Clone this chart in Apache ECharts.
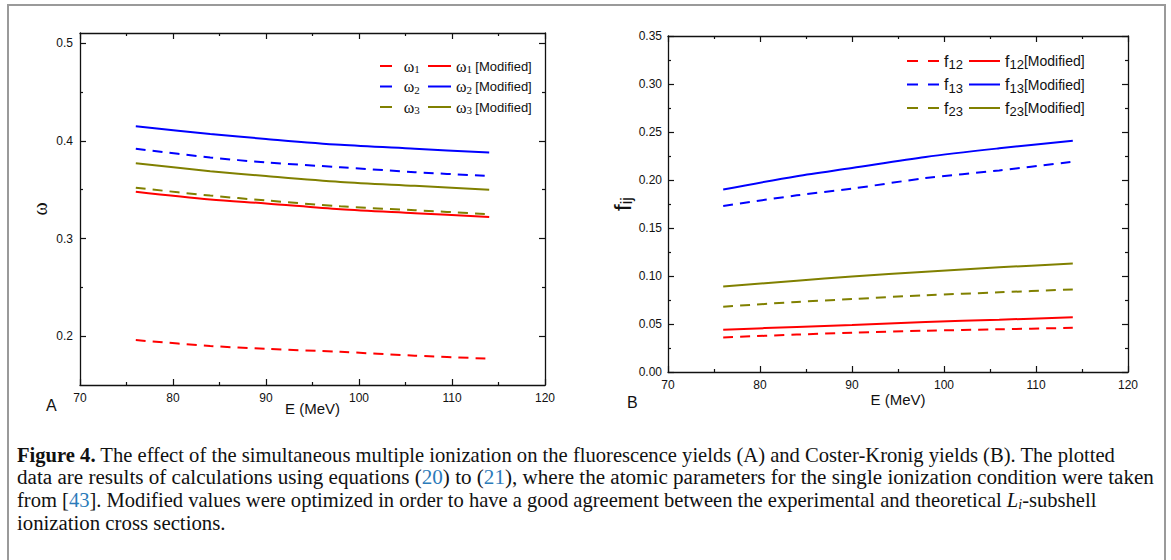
<!DOCTYPE html>
<html>
<head>
<meta charset="utf-8">
<script src="https://cdn.jsdelivr.net/npm/echarts@6/dist/echarts.min.js"></script>
<style>
html,body{margin:0;padding:0;background:#fff;}
#chart{width:1171px;height:560px;}
</style>
</head>
<body>
<div id="chart"></div>
<script>
// ---------------- data ----------------
const energies = [76, 84, 90, 98, 106, 114];
// Panel A: fluorescence yields
const w1    = [0.196, 0.190, 0.187, 0.184, 0.180, 0.177];
const w1Mod = [0.348, 0.340, 0.336, 0.330, 0.326, 0.322];
const w2    = [0.392, 0.383, 0.378, 0.373, 0.368, 0.364];
const w2Mod = [0.415, 0.407, 0.402, 0.396, 0.392, 0.388];
const w3    = [0.352, 0.344, 0.339, 0.333, 0.329, 0.325];
const w3Mod = [0.377, 0.369, 0.364, 0.358, 0.354, 0.350];
// Panel B: Coster-Kronig yields
const f12    = [0.036, 0.039, 0.041, 0.043, 0.0445, 0.046];
const f12Mod = [0.044, 0.047, 0.049, 0.052, 0.0545, 0.057];
const f13    = [0.173, 0.184, 0.191, 0.202, 0.210, 0.219];
const f13Mod = [0.190, 0.204, 0.2125, 0.224, 0.233, 0.241];
const f23    = [0.068, 0.073, 0.076, 0.080, 0.083, 0.086];
const f23Mod = [0.089, 0.095, 0.0995, 0.1045, 0.109, 0.113];
// tick labels
const yTicksA = [0.2, 0.3, 0.4, 0.5];
const yMinorA = [0.25, 0.35, 0.45];

// ---------------- helpers ----------------
const RED = '#ff0000', BLUE = '#0000ff', OLIVE = '#808000';
const SANS = 'Liberation Sans';
const SERIF = 'Liberation Serif';
const DASH = [10, 7];
const pairs = arr => energies.map((e, i) => [e, arr[i]]);

function mkSeries(name, arr, color, dashed, xi, yi) {
  return {
    name: name, type: 'line', xAxisIndex: xi, yAxisIndex: yi,
    data: pairs(arr), smooth: 0.3, symbol: 'none', silent: true,
    lineStyle: { color: color, width: 2, type: dashed ? DASH : 'solid' },
    itemStyle: { color: color }
  };
}

function xAxisDef(gridIndex, pos, labels, name, nameGap) {
  return {
    type: 'value', gridIndex: gridIndex, position: pos, min: 70, max: 120, interval: 10,
    axisLine: { show: true, onZero: false, lineStyle: { color: '#111', width: 1.3 } },
    axisTick: { show: true, inside: true, length: 6, lineStyle: { color: '#111', width: 1.2 } },
    minorTick: { show: true, splitNumber: 2, length: 3, lineStyle: { color: '#111', width: 1.2 } },
    splitLine: { show: false },
    axisLabel: { show: labels, margin: 7, color: '#111', fontFamily: SANS, fontSize: 12 },
    name: name || '', nameLocation: 'middle', nameGap: nameGap || 0, nameMoveOverlap: false,
    nameTextStyle: { fontFamily: SANS, fontSize: 15, color: '#111' }
  };
}

const richLeft = {
  g: { fontFamily: SERIF, fontSize: 16, color: '#111', lineHeight: 17, verticalAlign: 'middle' },
  s: { fontFamily: SERIF, fontSize: 11, color: '#111', lineHeight: 7, verticalAlign: 'bottom' },
  t: { fontFamily: SANS, fontSize: 13, color: '#111', lineHeight: 17, verticalAlign: 'middle' }
};
const richRight = {
  f: { fontFamily: SANS, fontSize: 16, color: '#111', lineHeight: 20, verticalAlign: 'middle' },
  fs: { fontFamily: SANS, fontSize: 13, color: '#111', lineHeight: 9, verticalAlign: 'bottom' },
  ft: { fontFamily: SANS, fontSize: 14, color: '#111', lineHeight: 20, verticalAlign: 'middle' }
};
function legendFmt(name) {
  const m = name.match(/^(ω|f)(\d+)(.*)$/);
  if (!m) return name;
  if (m[1] === 'ω') {
    return (m[3] ? '' : '  ') + '{g|ω}{s|' + m[2] + '}' + (m[3] ? ' {t|' + m[3].trim() + '}' : '');
  }
  return '{f|f}{fs|' + m[2] + '}' + (m[3] ? '{ft|' + m[3].trim() + '}' : '');
}
function legendDef(left, top, data, itemWidth, gap, icon, rich) {
  return {
    orient: 'vertical', left: left, top: top, data: data, selectedMode: false,
    itemWidth: itemWidth, itemHeight: 2, itemGap: gap, padding: 0,
    icon: icon,
    formatter: legendFmt,
    textStyle: { color: '#111', rich: rich }
  };
}

const chart = echarts.init(document.getElementById('chart'), null, { renderer: 'svg' });

const yAAxis = (pos, major) => ({
  type: 'value', gridIndex: 0, position: pos, min: 0.15, max: 0.5105,
  axisLine: { show: major, onZero: false, lineStyle: { color: '#111', width: 1.3 } },
  axisTick: { show: true, inside: true, length: major ? 6 : 3, customValues: major ? yTicksA : yMinorA,
              lineStyle: { color: '#111', width: 1.2 } },
  splitLine: { show: false },
  axisLabel: { show: major && pos === 'left', customValues: yTicksA, margin: 7, color: '#111',
               fontFamily: SANS, fontSize: 12, formatter: v => v.toFixed(1) },
  name: (major && pos === 'left') ? 'ω' : '', nameLocation: 'middle', nameGap: 30, nameMoveOverlap: false,
  nameTextStyle: { fontFamily: SERIF, fontSize: 20, color: '#111' }
});
const yBAxis = (pos) => ({
  type: 'value', gridIndex: 1, position: pos, min: 0, max: 0.35, interval: 0.05,
  axisLine: { show: true, onZero: false, lineStyle: { color: '#111', width: 1.3 } },
  axisTick: { show: true, inside: true, length: 6, lineStyle: { color: '#111', width: 1.2 } },
  minorTick: { show: true, splitNumber: 2, length: 3, lineStyle: { color: '#111', width: 1.2 } },
  splitLine: { show: false },
  axisLabel: { show: pos === 'left', margin: 6, color: '#111', fontFamily: SANS, fontSize: 12,
               formatter: v => v.toFixed(2) },
  name: pos === 'left' ? '{f|f}{s|ij}' : '', nameLocation: 'middle', nameGap: 34, nameMoveOverlap: false,
  nameTextStyle: { color: '#111', rich: {
    f: { fontFamily: SANS, fontSize: 24, color: '#111', lineHeight: 24, verticalAlign: 'middle' },
    s: { fontFamily: SANS, fontSize: 16, color: '#111', lineHeight: 12, verticalAlign: 'bottom' }
  } }
});

const DASH_ICON = 'path://M0 0H11V2H0ZM21 0H32V2H21Z';

const option = {
  animation: false,
  backgroundColor: '#fff',
  grid: [
    { left: 80, top: 33, width: 465, height: 352, containLabel: false },
    { left: 668, top: 36, width: 460, height: 336, containLabel: false }
  ],
  xAxis: [
    xAxisDef(0, 'bottom', true, 'E (MeV)', 16),
    xAxisDef(0, 'top', false),
    xAxisDef(1, 'bottom', true, 'E (MeV)', 20),
    xAxisDef(1, 'top', false)
  ],
  yAxis: [
    yAAxis('left', true), yAAxis('right', true), yAAxis('left', false), yAAxis('right', false),
    yBAxis('left'), yBAxis('right')
  ],
  legend: [
    legendDef(380, 58, ['ω1', 'ω2', 'ω3'], 12, 4, 'rect', richLeft),
    legendDef(428, 58, ['ω1 [Modified]', 'ω2 [Modified]', 'ω3 [Modified]'], 23, 4, 'rect', richLeft),
    legendDef(907, 53, ['f12', 'f13', 'f23'], 32, 5.5, DASH_ICON, richRight),
    legendDef(969, 53, ['f12[Modified]', 'f13[Modified]', 'f23[Modified]'], 31, 5.5, 'rect', richRight)
  ],
  series: [
    mkSeries('ω1', w1, RED, true, 0, 0),
    mkSeries('ω1 [Modified]', w1Mod, RED, false, 0, 0),
    mkSeries('ω2', w2, BLUE, true, 0, 0),
    mkSeries('ω2 [Modified]', w2Mod, BLUE, false, 0, 0),
    mkSeries('ω3', w3, OLIVE, true, 0, 0),
    mkSeries('ω3 [Modified]', w3Mod, OLIVE, false, 0, 0),
    mkSeries('f12', f12, RED, true, 2, 4),
    mkSeries('f12[Modified]', f12Mod, RED, false, 2, 4),
    mkSeries('f13', f13, BLUE, true, 2, 4),
    mkSeries('f13[Modified]', f13Mod, BLUE, false, 2, 4),
    mkSeries('f23', f23, OLIVE, true, 2, 4),
    mkSeries('f23[Modified]', f23Mod, OLIVE, false, 2, 4)
  ],
  graphic: [
    { type: 'polyline', silent: true, shape: { points: [[8, 560], [8, 5], [1165, 5], [1165, 560]] },
      style: { stroke: '#9a9a9a', lineWidth: 2, fill: null } },
    { type: 'text', left: 46, top: 397, style: { text: 'A', font: '16px ' + SANS, fill: '#111' } },
    { type: 'text', left: 627, top: 394, style: { text: 'B', font: '16px ' + SANS, fill: '#111' } },
    { type: 'text', x: 17, y: 455, style: {
        text: '{b|Figure 4.} The effect of the simultaneous multiple ionization on the fluorescence yields (A) and Coster-Kronig yields (B). The plotted',
        font: '20.6px ' + SERIF, fill: '#111', verticalAlign: 'middle',
        rich: { b: { fontFamily: SERIF, fontSize: 20.6, fontWeight: 'bold', fill: '#111' } } } },
    { type: 'text', x: 17, y: 477, style: {
        text: 'data are results of calculations using equations ({l|20}) to ({l|21}), where the atomic parameters for the single ionization condition were taken',
        font: '21.1px ' + SERIF, fill: '#111', verticalAlign: 'middle',
        rich: { l: { fontFamily: SERIF, fontSize: 21.1, fill: '#2b7bba' } } } },
    { type: 'text', x: 17, y: 500, style: {
        text: 'from [{l|43}]. Modified values were optimized in order to have a good agreement between the experimental and theoretical {i|L}{is|i}-subshell',
        font: '20.55px ' + SERIF, fill: '#111', verticalAlign: 'middle',
        rich: { l: { fontFamily: SERIF, fontSize: 20.55, fill: '#2b7bba', lineHeight: 22, verticalAlign: 'middle' },
                i: { fontFamily: SERIF, fontSize: 20.55, fontStyle: 'italic', fill: '#111', lineHeight: 22, verticalAlign: 'middle' },
                is: { fontFamily: SERIF, fontSize: 14, fontStyle: 'italic', fill: '#111', lineHeight: 12, verticalAlign: 'bottom' } } } },
    { type: 'text', x: 17, y: 522, style: {
        text: 'ionization cross sections.', font: '20.8px ' + SERIF, fill: '#111', verticalAlign: 'middle' } }
  ]
};
chart.setOption(option);
</script>
</body>
</html>
